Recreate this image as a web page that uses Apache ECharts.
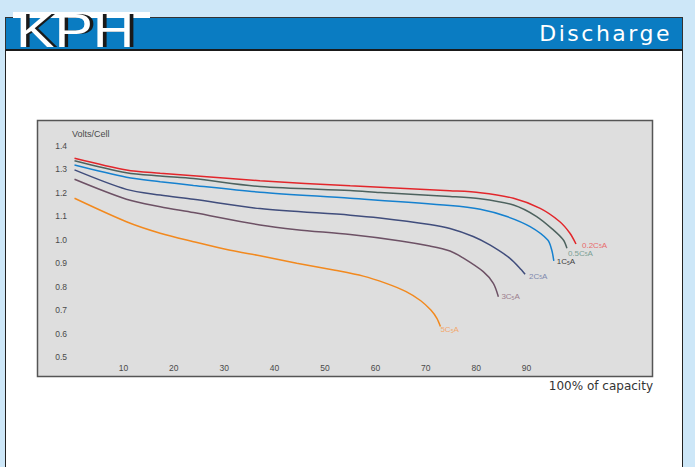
<!DOCTYPE html>
<html>
<head>
<meta charset="utf-8">
<script src="https://cdn.jsdelivr.net/npm/echarts@6/dist/echarts.min.js"></script>
<style>
  html, body { margin:0; padding:0; width:695px; height:467px; overflow:hidden; background:#cde7f8; }
  #panel { position:absolute; left:5px; top:17px; width:676px; height:460px; background:#fff; border-left:1px solid #222; border-right:1px solid #222; }
  #header { position:absolute; left:5px; top:17px; width:676px; height:31px; background:#0a7cc2; border:1px solid #333; border-bottom:2px solid #1a1a1a; }
  #strip { position:absolute; left:13px; top:12px; width:137px; height:6px; background:#fff; }
  #logo { position:absolute; left:16px; top:3px; font-family:"Liberation Sans", sans-serif; font-size:48px; line-height:56px; color:#fff; text-shadow:3px 0 0 #1a1a1a; transform:scaleX(1.2); transform-origin:0 0; }
  #title { position:absolute; right:23px; top:19px; font-family:"DejaVu Sans", sans-serif; font-size:22px; line-height:30px; color:#fff; letter-spacing:2.5px; }
  #chart { position:absolute; left:0; top:0; width:695px; height:467px; }
</style>
</head>
<body>
<div id="panel"></div>
<div id="header"></div>
<div id="strip"></div>
<div id="logo">KPH</div>
<div id="title">Discharge</div>
<div id="chart"></div>
<script>
// ---- data (capacity %, volts/cell) ----
const xTicks = [10, 20, 30, 40, 50, 60, 70, 80, 90];
const yTicks = [0.5, 0.6, 0.7, 0.8, 0.9, 1.0, 1.1, 1.2, 1.3, 1.4];

const cap02 = [0.3, 10.6, 17.3, 23.9, 37.1, 55, 74.8, 80.8, 87.4, 92.7, 96.6, 98.6, 99.8];
const v02   = [1.348, 1.298, 1.284, 1.273, 1.252, 1.230, 1.209, 1.201, 1.177, 1.134, 1.077, 1.028, 0.982];

const cap05 = [0.3, 10.6, 17.3, 23.9, 37.1, 55, 60.9, 74.8, 80.8, 87.4, 92.0, 95.3, 97.3, 98.0];
const v05   = [1.337, 1.286, 1.272, 1.261, 1.227, 1.210, 1.202, 1.185, 1.175, 1.148, 1.099, 1.042, 0.999, 0.964];

const cap1 = [0.3, 10.6, 17.3, 23.9, 37.1, 55, 74.8, 80.8, 86.1, 90.7, 94.2, 95.0, 95.4];
const v1   = [1.319, 1.267, 1.248, 1.232, 1.203, 1.177, 1.146, 1.130, 1.099, 1.056, 0.999, 0.955, 0.910];

const cap2 = [0.3, 10.6, 17.3, 23.9, 37.1, 55, 60.9, 70.8, 74.8, 79.4, 82.7, 86.7, 89.0, 89.7];
const v2   = [1.298, 1.215, 1.191, 1.173, 1.133, 1.105, 1.093, 1.065, 1.048, 1.014, 0.978, 0.921, 0.871, 0.853];

const cap3 = [0.3, 10.6, 17.3, 23.9, 37.1, 44.4, 55, 65, 70.8, 74.8, 77.2, 81.4, 83.4, 84.4];
const v3   = [1.258, 1.173, 1.141, 1.116, 1.063, 1.043, 1.022, 0.995, 0.973, 0.952, 0.925, 0.864, 0.814, 0.757];

const cap5 = [0.3, 10.6, 17.3, 23.9, 31.2, 37.1, 44.4, 52, 57.6, 62, 66, 69, 71, 72.2, 72.9];
const v5   = [1.177, 1.077, 1.028, 0.992, 0.955, 0.932, 0.900, 0.870, 0.845, 0.815, 0.780, 0.740, 0.700, 0.665, 0.630];

const seriesNames = ['0.2C', '0.5C', '1C', '2C', '3C', '5C'];
// ---------------------------------------

const zip = (a, b) => a.map((x, i) => [x, b[i]]);
const lineColors  = ['#e2262b', '#4d625e', '#1581cf', '#404d7c', '#6d5165', '#f2891e'];
const labelColors = ['#e86a6c', '#7b9e94', '#3f3f3f', '#7d88ad', '#9b7d8d', '#f2a86c'];
const labelOffsets = [[4, 1.5], [-1, 5], [1, 1], [2, 2], [1, 0], [-2, 3]];
const dataSets = [zip(cap02, v02), zip(cap05, v05), zip(cap1, v1), zip(cap2, v2), zip(cap3, v3), zip(cap5, v5)];

const chart = echarts.init(document.getElementById('chart'), null, { renderer: 'svg' });
const lbl = { fontFamily: 'Liberation Sans, sans-serif', fontSize: 8.5, color: '#4a4a4a' };

chart.setOption({
  animation: false,
  backgroundColor: 'transparent',
  graphic: [{
    type: 'rect', z: -10, silent: true,
    shape: { x: 37.5, y: 120.5, width: 615, height: 256 },
    style: { fill: '#dedede', stroke: '#555', lineWidth: 1.5 }
  }, {
    type: 'text', left: 72, top: 129,
    style: { text: 'Volts/Cell', font: '9px "Liberation Sans", sans-serif', fill: '#4a4a4a' }
  }],
  grid: { left: 73, right: 118, top: 146, bottom: 110 },
  xAxis: {
    type: 'value', min: 0, max: 100, interval: 10,
    name: '100% of capacity', nameLocation: 'end',
    nameTextStyle: { fontFamily: 'DejaVu Sans, sans-serif', fontSize: 12, color: '#333', align: 'right', verticalAlign: 'top', padding: [23, 0, 0, 0] },
    nameGap: 76,
    axisLine: { show: false }, axisTick: { show: false }, splitLine: { show: false },
    axisLabel: Object.assign({ margin: 6, formatter: v => xTicks.includes(v) ? String(v) : '' }, lbl)
  },
  yAxis: {
    type: 'value', min: 0.5, max: 1.4, interval: 0.1,
    axisLine: { show: false }, axisTick: { show: false }, splitLine: { show: false },
    axisLabel: Object.assign({ margin: 6, formatter: v => yTicks.some(t => Math.abs(t - v) < 1e-6) ? v.toFixed(1) : '' }, lbl)
  },
  series: dataSets.map((d, i) => ({
    type: 'line', name: seriesNames[i], data: d,
    smooth: 0.3, showSymbol: false, symbol: 'none',
    lineStyle: { color: lineColors[i], width: 1.5 },
    endLabel: {
      show: true, position: 'right', distance: 2, offset: labelOffsets[i],
      formatter: seriesNames[i].replace('C', 'C{s|5}') + 'A',
      fontFamily: 'Liberation Sans, sans-serif', fontSize: 8, lineHeight: 7, color: labelColors[i],
      rich: { s: { fontSize: 5, lineHeight: 7, verticalAlign: 'bottom', color: labelColors[i], fontFamily: 'Liberation Sans, sans-serif' } }
    }
  }))
});
</script>
</body>
</html>
